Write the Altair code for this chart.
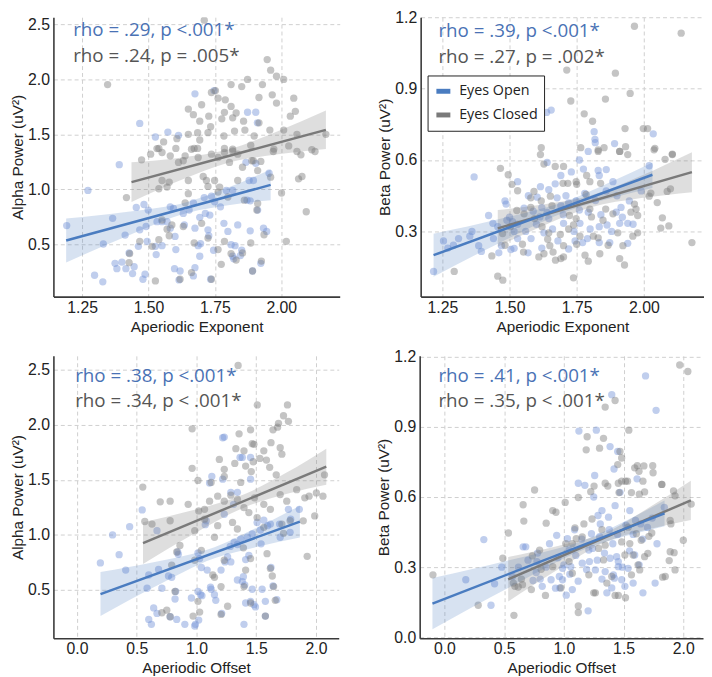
import altair as alt
import pandas as pd

# ---------------- colours ----------------
BLUE_LINE = "#4a7cc0"
BLUE_PT = "#7393d8"
GRAY_LINE = "#7a7a7a"
GRAY_PT = "#7c7c7c"
BLUE_TXT = "#4a72b5"
GRAY_TXT = "#555555"
GROUPS = ["Eyes Open", "Eyes Closed"]

# ---------------- panel 1: alpha power vs aperiodic exponent ----------------
exp_alpha_open = [
    (1.192, 0.670), (1.272, 0.990), (1.390, 1.224), (1.365, 0.736), (1.330, 0.503), (1.297, 0.219),
    (1.328, 0.159), (1.374, 0.327), (1.381, 0.279), (1.400, 0.339), (1.415, 0.279), (1.440, 0.234),
    (1.446, 0.297), (1.427, 0.422), (1.412, 0.584), (1.454, 0.835), (1.483, 0.862), (1.499, 0.811),
    (1.491, 0.662), (1.462, 0.482), (1.467, 0.632), (1.487, 0.228), (1.479, 0.183), (1.495, 0.527),
    (1.526, 0.482), (1.529, 0.407), (1.551, 0.488), (1.532, 0.706), (1.551, 0.706), (1.570, 0.706),
    (1.582, 0.841), (1.594, 0.826), (1.582, 0.647), (1.600, 0.572), (1.603, 0.452), (1.598, 0.279),
    (1.619, 0.258), (1.615, 0.177), (1.635, 0.676), (1.631, 0.781), (1.653, 0.811), (1.669, 0.877),
    (1.675, 0.647), (1.693, 0.745), (1.687, 0.488), (1.696, 0.506), (1.675, 0.288), (1.693, 0.392),
    (1.669, 0.213), (1.710, 0.925), (1.737, 0.937), (1.749, 0.886), (1.714, 0.781), (1.731, 0.766),
    (1.724, 0.632), (1.727, 0.578), (1.745, 0.446), (1.734, 0.183), (1.771, 0.841), (1.784, 0.691),
    (1.793, 0.990), (1.817, 0.990), (1.799, 0.617), (1.811, 0.497), (1.826, 0.488), (1.836, 0.676),
    (1.817, 0.392), (1.821, 0.369), (1.851, 0.446), (1.846, 0.398), (1.871, 0.901), (1.883, 0.895),
    (1.879, 1.080), (1.904, 1.236), (1.895, 1.080), (1.883, 0.623), (1.923, 0.327), (1.892, 0.258),
    (1.911, 0.811), (1.933, 0.647), (1.945, 0.617), (1.954, 1.146), (1.867, 1.245), (1.467, 1.598),
    (1.573, 1.520), (1.675, 1.867), (1.747, 1.897), (1.526, 1.475), (1.613, 1.490), (1.873, 1.700),
    (1.904, 1.700), (1.910, 1.604),
]
exp_alpha_closed = [
    (1.710, 2.536), (1.947, 2.178), (1.960, 2.082), (1.982, 2.028), (2.009, 1.998), (1.811, 1.951),
    (1.851, 1.933), (1.873, 1.998), (1.929, 1.951), (1.346, 1.951), (1.737, 1.879), (1.752, 1.897),
    (1.762, 1.828), (1.789, 1.813), (1.966, 1.858), (2.047, 1.828), (1.700, 1.768), (1.650, 1.729),
    (1.811, 1.753), (1.830, 1.693), (1.786, 1.699), (1.916, 1.834), (1.982, 1.783), (2.034, 1.664),
    (2.053, 1.708), (1.669, 1.678), (1.693, 1.619), (1.727, 1.664), (1.776, 1.640), (1.817, 1.649),
    (1.858, 1.619), (1.916, 1.604), (1.734, 1.568), (1.685, 1.514), (1.724, 1.514), (1.784, 1.484),
    (1.824, 1.529), (1.863, 1.538), (1.898, 1.484), (1.557, 1.430), (1.607, 1.460), (1.650, 1.499),
    (1.693, 1.448), (1.957, 1.538), (2.009, 1.538), (2.059, 1.499), (2.168, 1.499), (1.539, 1.371),
    (1.603, 1.371), (1.672, 1.371), (1.685, 1.371), (1.786, 1.371), (1.817, 1.365), (1.885, 1.400),
    (1.972, 1.365), (2.028, 1.394), (2.115, 1.359), (1.474, 1.268), (1.508, 1.319), (1.532, 1.370),
    (1.551, 1.334), (1.582, 1.304), (1.638, 1.304), (1.613, 1.244), (1.631, 1.259), (1.662, 1.364),
    (1.687, 1.289), (1.737, 1.319), (1.762, 1.289), (1.786, 1.334), (1.817, 1.349), (1.805, 1.244),
    (1.836, 1.319), (1.895, 1.259), (1.923, 1.253), (1.970, 1.343), (2.059, 1.343), (2.074, 1.313),
    (2.127, 1.343), (2.078, 1.116), (2.065, 1.095), (2.001, 0.966), (2.094, 0.796), (2.019, 0.527),
    (1.551, 1.080), (1.570, 1.020), (1.539, 1.005), (1.578, 1.065), (1.650, 1.080), (1.718, 1.080),
    (1.724, 1.026), (1.749, 1.080), (1.768, 1.020), (1.706, 1.116), (1.650, 0.960), (1.836, 1.080),
    (1.854, 1.200), (1.889, 1.259), (1.911, 1.170), (1.960, 1.110), (1.861, 0.901), (1.911, 0.871),
    (1.908, 0.811), (1.762, 0.975), (1.799, 0.930), (1.638, 0.877), (1.631, 0.662), (1.588, 0.676),
    (1.570, 0.638), (1.578, 0.578), (1.551, 0.721), (1.467, 0.527), (1.514, 0.482), (1.429, 0.416),
    (1.417, 0.925), (1.427, 0.333), (1.539, 0.542), (1.700, 0.691), (1.672, 0.512), (1.724, 0.557),
    (1.786, 0.527), (1.762, 0.452), (1.774, 0.318), (1.811, 0.416), (1.830, 0.357), (1.854, 0.422),
    (1.885, 0.512), (1.935, 0.587), (1.892, 0.258), (1.925, 0.348), (1.619, 0.183), (1.662, 0.243),
    (1.737, 0.183), (1.526, 0.168),
]
exp_alpha_fit = {"Eyes Open": [(1.19, 0.535), (1.96, 1.040)],
                 "Eyes Closed": [(1.436, 1.065), (2.168, 1.540)]}
exp_alpha_band = {"Eyes Open": [(1.19, 0.335, 0.735), (1.40, 0.556, 0.790), (1.65, 0.787, 0.887),
                                (1.80, 0.854, 1.016), (1.96, 0.900, 1.180)],
                  "Eyes Closed": [(1.436, 0.885, 1.245), (1.62, 1.081, 1.287), (1.80, 1.241, 1.361),
                                  (1.98, 1.315, 1.521), (2.168, 1.365, 1.715)]}

# ---------------- panel 2: beta power vs aperiodic exponent ----------------
exp_beta_open = [
    (1.638, 0.800), (1.655, 0.810), (1.815, 0.719), (1.818, 0.687), (1.819, 0.673), (2.035, 0.710),
    (1.891, 0.669), (1.368, 0.529), (1.691, 0.535), (1.775, 0.562), (1.830, 0.556), (1.834, 0.535),
    (1.885, 0.509), (1.793, 0.636), (2.020, 0.576), (1.422, 0.367), (1.438, 0.334), (1.385, 0.240),
    (1.352, 0.280), (1.254, 0.260), (1.291, 0.242), (1.395, 0.216), (1.460, 0.210), (1.217, 0.132),
    (1.483, 0.428), (1.487, 0.415), (1.490, 0.347), (1.511, 0.341), (1.456, 0.320), (1.517, 0.300),
    (1.505, 0.224), (1.517, 0.229), (1.569, 0.210), (1.554, 0.398), (1.603, 0.444), (1.615, 0.488),
    (1.588, 0.385), (1.613, 0.361), (1.628, 0.294), (1.646, 0.354), (1.701, 0.334), (1.720, 0.226),
    (1.748, 0.428), (1.762, 0.334), (1.744, 0.260), (1.772, 0.253), (1.793, 0.381), (1.834, 0.320),
    (1.834, 0.253), (1.863, 0.327), (1.873, 0.253), (1.897, 0.381), (1.915, 0.401), (1.910, 0.334),
    (1.940, 0.334), (1.946, 0.428), (1.677, 0.441), (1.691, 0.408), (1.646, 0.475), (1.530, 0.509),
    (1.500, 0.360), (1.530, 0.330), (1.560, 0.300), (1.580, 0.270), (1.600, 0.330), (1.620, 0.400),
    (1.640, 0.380), (1.660, 0.310), (1.680, 0.260), (1.700, 0.370), (1.720, 0.420), (1.740, 0.300),
    (1.760, 0.390), (1.780, 0.460), (1.800, 0.310), (1.820, 0.430), (1.840, 0.370), (1.860, 0.470),
    (1.880, 0.300), (1.900, 0.450), (1.920, 0.360), (1.940, 0.250), (1.440, 0.270), (1.470, 0.240),
    (1.360, 0.300), (1.310, 0.270), (1.270, 0.230), (1.570, 0.450), (1.670, 0.500), (1.730, 0.550),
    (1.790, 0.270), (1.960, 0.330), (1.990, 0.470), (1.530, 0.270), (1.620, 0.230), (1.710, 0.450),
    (1.860, 0.560), (1.640, 0.590), (1.760, 0.600),
]
exp_beta_closed = [
    (1.965, 1.162), (2.139, 1.133), (1.713, 0.978), (1.894, 0.965), (1.949, 0.880), (1.728, 0.848),
    (1.857, 0.856), (1.778, 0.794), (1.809, 0.763), (1.930, 0.732), (1.998, 0.732), (2.014, 0.732),
    (1.618, 0.652), (1.765, 0.652), (1.830, 0.642), (1.852, 0.652), (1.910, 0.636), (1.932, 0.656),
    (2.041, 0.649), (2.106, 0.625), (1.466, 0.565), (1.495, 0.538), (1.509, 0.498), (1.530, 0.471),
    (1.628, 0.583), (1.670, 0.573), (1.701, 0.573), (1.699, 0.502), (1.717, 0.502), (1.748, 0.509),
    (1.750, 0.498), (1.787, 0.535), (1.799, 0.509), (1.839, 0.502), (1.615, 0.623), (1.830, 0.636),
    (1.910, 0.636), (1.940, 0.623), (2.038, 0.643), (2.106, 0.623), (2.079, 0.603), (1.434, 0.197),
    (1.294, 0.132), (1.456, 0.112), (1.475, 0.095), (1.474, 0.291), (1.503, 0.320), (1.483, 0.242),
    (1.548, 0.246), (1.552, 0.213), (1.527, 0.388), (1.554, 0.374), (1.579, 0.441), (1.591, 0.468),
    (1.618, 0.428), (1.579, 0.401), (1.593, 0.354), (1.621, 0.320), (1.646, 0.294), (1.652, 0.448),
    (1.658, 0.408), (1.642, 0.267), (1.650, 0.240), (1.662, 0.213), (1.671, 0.179), (1.691, 0.186),
    (1.701, 0.193), (1.689, 0.287), (1.701, 0.240), (1.720, 0.310), (1.723, 0.367), (1.738, 0.327),
    (1.748, 0.354), (1.762, 0.280), (1.750, 0.246), (1.738, 0.105), (1.785, 0.455), (1.799, 0.394),
    (1.805, 0.361), (1.812, 0.280), (1.793, 0.175), (1.781, 0.200), (1.830, 0.273), (1.836, 0.206),
    (1.848, 0.347), (1.858, 0.394), (1.867, 0.242), (1.885, 0.374), (1.903, 0.294), (1.910, 0.186),
    (1.928, 0.159), (1.922, 0.240), (1.952, 0.381), (1.965, 0.415), (1.971, 0.394), (1.977, 0.367),
    (1.959, 0.280), (1.977, 0.294), (2.020, 0.448), (2.026, 0.461), (2.050, 0.421), (2.069, 0.357),
    (2.063, 0.314), (2.093, 0.323), (2.087, 0.468), (2.099, 0.479), (2.179, 0.253), (1.628, 0.206),
    (1.609, 0.193),
]
exp_beta_fit = {"Eyes Open": [(1.217, 0.200), (2.032, 0.538)],
                "Eyes Closed": [(1.456, 0.313), (2.179, 0.549)]}
exp_beta_band = {"Eyes Open": [(1.217, 0.110, 0.290), (1.47, 0.256, 0.354), (1.72, 0.387, 0.431),
                               (1.88, 0.440, 0.510), (2.032, 0.482, 0.590)],
                 "Eyes Closed": [(1.456, 0.236, 0.390), (1.63, 0.326, 0.414), (1.80, 0.400, 0.450),
                                 (1.99, 0.440, 0.534), (2.179, 0.465, 0.633)]}

# ---------------- panel 3: alpha power vs aperiodic offset ----------------
off_alpha_open = [
    (0.195, 0.745), (0.297, 0.999), (0.352, 0.820), (0.440, 1.074), (0.407, 0.680), (0.545, 1.226),
    (0.600, 0.635), (0.586, 0.515), (0.600, 0.232), (0.622, 0.187), (0.641, 0.336), (0.682, 0.686),
    (0.669, 0.286), (0.710, 0.515), (0.669, 1.038), (0.779, 0.256), (0.765, 0.626), (0.792, 0.614),
    (0.820, 0.417), (0.825, 0.486), (0.834, 0.232), (0.842, 0.844), (0.847, 0.823), (0.902, 0.187),
    (0.957, 0.426), (0.990, 0.187), (0.985, 0.172), (1.012, 0.486), (1.018, 0.226), (1.034, 0.456),
    (1.045, 0.447), (1.012, 0.835), (1.026, 0.784), (1.040, 0.703), (1.073, 1.092), (1.081, 1.128),
    (1.089, 0.680), (1.117, 0.524), (1.122, 0.506), (1.150, 0.456), (1.161, 0.405), (1.205, 0.680),
    (1.210, 0.286), (1.232, 1.187), (1.238, 0.754), (1.260, 0.799), (1.282, 0.895), (1.287, 0.754),
    (1.310, 1.277), (1.315, 0.933), (1.342, 0.912), (1.370, 0.963), (1.383, 0.575), (1.392, 0.620),
    (1.403, 0.545), (1.397, 0.187), (1.411, 0.775), (1.425, 0.978), (1.438, 0.814), (1.452, 0.396),
    (1.466, 0.506), (1.480, 0.366), (1.493, 0.345), (1.466, 1.008), (1.507, 1.112), (1.535, 1.044),
    (1.540, 0.918), (1.549, 0.506), (1.563, 1.133), (1.576, 0.262), (1.595, 1.083), (1.618, 1.098),
    (1.623, 0.703), (1.640, 0.536), (1.672, 0.411), (1.695, 1.098), (1.700, 0.978), (1.783, 1.023),
    (1.788, 1.142), (1.860, 1.232), (1.769, 1.232), (1.342, 0.590), (1.411, 0.381), (1.576, 0.396),
    (1.109, 1.470), (1.219, 1.882), (1.232, 1.888), (1.364, 1.703), (1.383, 1.703), (1.452, 1.703),
    (1.219, 1.506), (1.287, 1.386), (1.342, 1.386), (1.452, 1.506), (1.128, 1.530),
]
off_alpha_closed = [
    (1.348, 2.539), (1.508, 2.180), (1.761, 2.180), (1.728, 2.082), (1.686, 2.013), (1.769, 2.031),
    (1.640, 1.954), (1.678, 1.978), (1.356, 1.918), (1.452, 1.954), (1.466, 1.828), (1.480, 1.822),
    (1.623, 1.837), (1.700, 1.792), (0.963, 1.963), (1.329, 1.783), (1.397, 1.763), (1.563, 1.763),
    (1.714, 1.733), (1.191, 1.685), (1.320, 1.649), (1.474, 1.664), (1.530, 1.694), (1.585, 1.679),
    (1.232, 1.595), (1.411, 1.625), (1.458, 1.575), (1.612, 1.613), (1.667, 1.545), (0.963, 1.604),
    (1.012, 1.494), (1.122, 1.476), (1.232, 1.530), (1.370, 1.476), (0.550, 1.434), (1.838, 1.410),
    (2.071, 1.545), (2.003, 1.381), (0.696, 1.300), (0.779, 1.306), (0.930, 1.277), (1.018, 1.217),
    (1.067, 1.232), (1.109, 1.306), (1.177, 1.351), (1.232, 1.306), (1.287, 1.360), (1.342, 1.321),
    (1.397, 1.247), (1.438, 1.202), (1.485, 1.336), (1.563, 1.277), (1.618, 1.232), (1.700, 1.366),
    (1.755, 1.306), (1.906, 1.336), (1.942, 1.351), (2.058, 1.351), (1.989, 1.172), (1.893, 1.127),
    (1.926, 0.805), (0.567, 1.121), (0.627, 1.098), (0.779, 1.128), (0.861, 0.903), (0.834, 0.844),
    (0.985, 1.038), (1.067, 1.142), (1.150, 0.978), (1.177, 1.083), (1.232, 0.769), (1.301, 1.113),
    (1.342, 1.053), (1.392, 0.882), (1.411, 0.680), (1.452, 0.784), (1.507, 1.157), (1.563, 1.068),
    (1.590, 0.829), (1.618, 0.695), (1.634, 0.626), (1.645, 0.530), (1.659, 0.405), (1.714, 1.098),
    (1.728, 1.014), (1.783, 1.128), (1.136, 0.635), (1.150, 0.614), (1.205, 0.530), (1.040, 0.859),
    (0.985, 0.769), (0.792, 0.725), (0.820, 0.486), (1.012, 0.396), (0.971, 0.262), (0.779, 0.256),
    (0.710, 0.292), (0.751, 0.316), (1.026, 0.298), (1.205, 0.277), (1.260, 0.351), (1.452, 0.381),
    (1.576, 0.262), (1.397, 0.530),
]
off_alpha_fit = {"Eyes Open": [(0.196, 0.462), (1.865, 1.120)],
                 "Eyes Closed": [(0.552, 0.925), (2.086, 1.619)]}
off_alpha_band = {"Eyes Open": [(0.196, 0.262, 0.662), (0.65, 0.528, 0.754), (1.15, 0.788, 0.888),
                                (1.50, 0.889, 1.063), (1.865, 0.975, 1.265)],
                  "Eyes Closed": [(0.552, 0.735, 1.115), (0.95, 0.992, 1.218), (1.40, 1.249, 1.369),
                                  (1.75, 1.371, 1.563), (2.086, 1.455, 1.783)]}

# ---------------- panel 4: beta power vs aperiodic offset ----------------
off_beta_open = [
    (1.684, 1.118), (1.401, 1.038), (1.772, 0.971), (1.126, 0.882), (1.387, 0.816), (1.420, 0.720),
    (1.258, 0.692), (1.121, 0.659), (1.613, 0.678), (0.179, 0.246), (0.330, 0.418), (0.390, 0.137),
    (0.420, 0.229), (0.659, 0.387), (0.681, 0.387), (0.775, 0.324), (0.802, 0.249), (0.819, 0.218),
    (0.893, 0.246), (0.940, 0.436), (0.967, 0.211), (0.989, 0.246), (1.030, 0.422), (1.058, 0.302),
    (1.203, 0.113), (1.214, 0.324), (1.231, 0.443), (1.286, 0.521), (1.305, 0.485), (1.346, 0.281),
    (1.387, 0.338), (1.415, 0.267), (1.423, 0.253), (1.442, 0.345), (1.456, 0.324), (1.580, 0.232),
    (1.643, 0.485), (1.662, 0.190), (1.764, 0.232), (1.841, 0.556), (0.742, 0.243), (0.962, 0.260),
    (0.989, 0.295), (0.769, 0.277), (1.154, 0.317), (1.264, 0.288), (1.319, 0.249), (1.401, 0.211),
    (1.456, 0.302), (1.511, 0.218), (1.044, 0.373), (1.209, 0.373), (1.484, 0.246), (1.538, 0.295),
    (1.593, 0.352), (1.071, 0.204), (1.374, 0.514), (1.429, 0.563), (1.552, 0.542), (1.319, 0.542),
    (1.176, 0.650), (1.272, 0.886), (1.451, 0.795),
    (0.620, 0.300), (0.700, 0.330), (0.780, 0.360), (0.850, 0.300), (0.880, 0.400), (0.950, 0.340),
    (1.000, 0.310), (1.050, 0.270), (1.100, 0.350), (1.120, 0.240), (1.150, 0.420), (1.190, 0.290),
    (1.240, 0.380), (1.280, 0.330), (1.300, 0.430), (1.340, 0.360), (1.380, 0.460), (1.410, 0.400),
    (1.450, 0.440), (1.490, 0.300), (1.520, 0.480), (1.550, 0.370), (1.580, 0.440), (1.600, 0.500),
    (1.630, 0.310), (1.660, 0.420), (1.700, 0.470), (1.740, 0.510), (1.780, 0.400), (0.930, 0.210),
    (1.020, 0.180), (1.360, 0.190), (0.570, 0.260), (0.480, 0.300), (1.090, 0.460), (1.470, 0.620),
    (1.250, 0.600),
]
off_beta_closed = [
    (1.970, 1.165), (2.038, 1.137), (1.429, 1.013), (1.346, 0.985), (1.544, 0.886), (1.195, 0.858),
    (1.332, 0.851), (1.187, 0.802), (1.470, 0.795), (1.484, 0.767), (1.451, 0.739), (1.615, 0.734),
    (1.629, 0.710), (1.744, 0.734), (1.346, 0.659), (1.253, 0.647), (1.456, 0.659), (1.484, 0.668),
    (1.516, 0.668), (1.662, 0.668), (1.819, 0.654), (1.225, 0.623), (0.755, 0.630), (1.462, 0.619),
    (1.566, 0.619), (1.676, 0.622), (1.918, 0.626), (-0.096, 0.267), (0.283, 0.137), (0.489, 0.338),
    (0.536, 0.446), (0.659, 0.567), (0.665, 0.497), (0.577, 0.232), (0.590, 0.218), (0.618, 0.215),
    (0.654, 0.225), (0.582, 0.094), (0.645, 0.249), (0.728, 0.204), (0.736, 0.348), (0.797, 0.373),
    (0.810, 0.291), (0.846, 0.179), (0.852, 0.488), (0.907, 0.542), (0.934, 0.535), (0.907, 0.302),
    (0.975, 0.211), (1.011, 0.577), (1.016, 0.401), (1.044, 0.324), (1.071, 0.401), (1.071, 0.274),
    (1.093, 0.468), (1.104, 0.422), (1.121, 0.134), (1.121, 0.106), (1.154, 0.429), (1.168, 0.485),
    (1.209, 0.267), (1.236, 0.506), (1.250, 0.190), (1.264, 0.190), (1.291, 0.380), (1.319, 0.460),
    (1.332, 0.331), (1.346, 0.394), (1.360, 0.232), (1.401, 0.260), (1.429, 0.179), (1.456, 0.179),
    (1.484, 0.408), (1.511, 0.352), (1.516, 0.169), (1.538, 0.471), (1.552, 0.401), (1.566, 0.267),
    (1.580, 0.352), (1.607, 0.443), (1.621, 0.310), (1.635, 0.288), (1.648, 0.415), (1.676, 0.345),
    (1.703, 0.359), (1.712, 0.432), (1.736, 0.446), (1.827, 0.257), (1.882, 0.328), (1.923, 0.362),
    (1.896, 0.485), (2.066, 0.570), (1.121, 0.598), (1.299, 0.809), (1.368, 0.647), (1.533, 0.668),
    (1.593, 0.725), (1.632, 0.612), (1.670, 0.733), (1.747, 0.704), (1.821, 0.654), (1.931, 0.605),
    (2.000, 0.415), (1.890, 0.366), (1.849, 0.260), (1.931, 0.288), (1.890, 0.500),
]
off_beta_fit = {"Eyes Open": [(-0.10, 0.144), (1.843, 0.530)],
                "Eyes Closed": [(0.534, 0.248), (2.063, 0.586)]}
off_beta_band = {"Eyes Open": [(-0.10, 0.034, 0.254), (0.55, 0.215, 0.331), (1.20, 0.382, 0.422),
                               (1.52, 0.433, 0.499), (1.843, 0.475, 0.585)],
                 "Eyes Closed": [(0.534, 0.153, 0.343), (0.95, 0.290, 0.390), (1.35, 0.408, 0.448),
                                 (1.70, 0.461, 0.551), (2.063, 0.502, 0.670)]}

# ---------------- texts / axes ----------------
exp_ticks = [1.25, 1.5, 1.75, 2.0]
off_ticks = [0.0, 0.5, 1.0, 1.5, 2.0]
alpha_ticks = [0.5, 1.0, 1.5, 2.0, 2.5]
beta_ticks_top = [0.3, 0.6, 0.9, 1.2]
beta_ticks_bottom = [0.0, 0.3, 0.6, 0.9, 1.2]

LABEL_FONT = "Liberation Sans"
TEXT_FONT = "Open Sans"


def panel(open_pts, closed_pts, fit, band, xdom, ydom, xticks, yticks, xfmt, yfmt,
          xtitle, ytitle, txt_open, txt_closed, width, height, txt_x, txt_y, show_legend=False):
    xs = alt.Scale(domain=xdom, nice=False, zero=False)
    ys = alt.Scale(domain=ydom, nice=False, zero=False)
    xax = alt.Axis(values=xticks, format=xfmt, title=xtitle)
    yax = alt.Axis(values=yticks, format=yfmt, title=ytitle)

    layers = []
    for pts, col in ((open_pts, BLUE_PT), (closed_pts, GRAY_PT)):
        df = pd.DataFrame(pts, columns=["x", "y"])
        layers.append(alt.Chart(df).mark_circle(size=55, opacity=0.45, color=col, clip=True).encode(
            x=alt.X("x:Q", scale=xs, axis=xax), y=alt.Y("y:Q", scale=ys, axis=yax)))
    for g, col, op in (("Eyes Open", BLUE_LINE, 0.22), ("Eyes Closed", GRAY_LINE, 0.25)):
        df = pd.DataFrame(band[g], columns=["x", "lo", "hi"])
        layers.append(alt.Chart(df).mark_area(color=col, opacity=op, interpolate="monotone", clip=True).encode(
            x=alt.X("x:Q", scale=xs, axis=xax), y=alt.Y("lo:Q", scale=ys, axis=yax), y2="hi:Q"))
    rows = []
    for g in ["Eyes Closed", "Eyes Open"]:
        for (x, y) in fit[g]:
            rows.append({"x": x, "y": y, "group": g})
    fdf = pd.DataFrame(rows)
    if show_legend:
        leg = alt.Legend(orient="none", legendX=7, legendY=59, title=None, symbolType="stroke",
                         symbolStrokeWidth=5, symbolSize=200, labelFontSize=14.5, labelFont=TEXT_FONT,
                         labelColor="#222222", strokeColor="#222222", fillColor="white", padding=6,
                         rowPadding=4, cornerRadius=0, labelOffset=6)
    else:
        leg = None
    layers.append(alt.Chart(fdf).mark_line(strokeWidth=2.5, clip=True).encode(
        x=alt.X("x:Q", scale=xs, axis=xax), y=alt.Y("y:Q", scale=ys, axis=yax),
        color=alt.Color("group:N", scale=alt.Scale(domain=GROUPS, range=[BLUE_LINE, GRAY_LINE]), legend=leg),
        detail="group:N"))
    tdf = pd.DataFrame({"t": [txt_open, txt_closed]})
    layers.append(alt.Chart(tdf.iloc[[0]]).mark_text(align="left", baseline="middle", fontSize=19,
                                                      font=TEXT_FONT, color=BLUE_TXT).encode(
        text="t:N", x=alt.value(txt_x), y=alt.value(txt_y)))
    layers.append(alt.Chart(tdf.iloc[[1]]).mark_text(align="left", baseline="middle", fontSize=19,
                                                      font=TEXT_FONT, color=GRAY_TXT).encode(
        text="t:N", x=alt.value(txt_x), y=alt.value(txt_y + 26)))
    return alt.layer(*layers).properties(width=width, height=height)


p1 = panel(exp_alpha_open, exp_alpha_closed, exp_alpha_fit, exp_alpha_band,
           [1.142, 2.22], [0.025, 2.563], exp_ticks, alpha_ticks, ".2f", ".1f",
           "Aperiodic Exponent", "Alpha Power (uV²)",
           "rho = .29, p <.001*", "rho = .24, p = .005*", 290, 283, 20, 13)
p2 = panel(exp_beta_open, exp_beta_closed, exp_beta_fit, exp_beta_band,
           [1.169, 2.224], [0.026, 1.2], exp_ticks, beta_ticks_top, ".2f", ".1f",
           "Aperiodic Exponent", "Beta Power (uV²)",
           "rho = .39, p <.001*", "rho = .27, p = .002*", 287, 283, 18, 14, show_legend=True)
p3 = panel(off_alpha_open, off_alpha_closed, off_alpha_fit, off_alpha_band,
           [-0.198, 2.19], [0.061, 2.626], off_ticks, alpha_ticks, ".1f", ".1f",
           "Aperiodic Offset", "Alpha Power (uV²)",
           "rho = .38, p <.001*", "rho = .34, p < .001*", 289, 286, 22, 20)
p4 = panel(off_beta_open, off_beta_closed, off_beta_fit, off_beta_band,
           [-0.207, 2.165], [-0.004, 1.204], off_ticks, beta_ticks_bottom, ".1f", ".1f",
           "Aperiodic Offset", "Beta Power (uV²)",
           "rho = .41, p <.001*", "rho = .35, p < .001*", 287, 286, 19, 20)

row1 = alt.hconcat(p1, p2, spacing=38).resolve_scale(color="independent")
row2 = alt.hconcat(p3, p4, spacing=38).resolve_scale(color="independent")
chart = alt.vconcat(row1, row2, spacing=13).resolve_scale(color="independent").properties(
    padding={"left": 2, "top": -3, "right": 0, "bottom": 0}
).configure_view(stroke=None).configure_axis(
    domainColor="#3a3a3a", domainWidth=1.6, grid=True, gridColor="#cfcfcf", gridDash=[4, 3],
    gridWidth=1, ticks=False, labelFont=LABEL_FONT, labelFontSize=16, labelColor="#222222",
    titleFont=LABEL_FONT, titleFontSize=15.5, titleFontWeight="normal",
    titleColor="#222222", labelFlush=False
).configure_axisX(labelPadding=3, titlePadding=4).configure_axisY(labelPadding=4, titlePadding=2)

chart.save("out.html", embed_options={"renderer": "svg", "actions": False})
